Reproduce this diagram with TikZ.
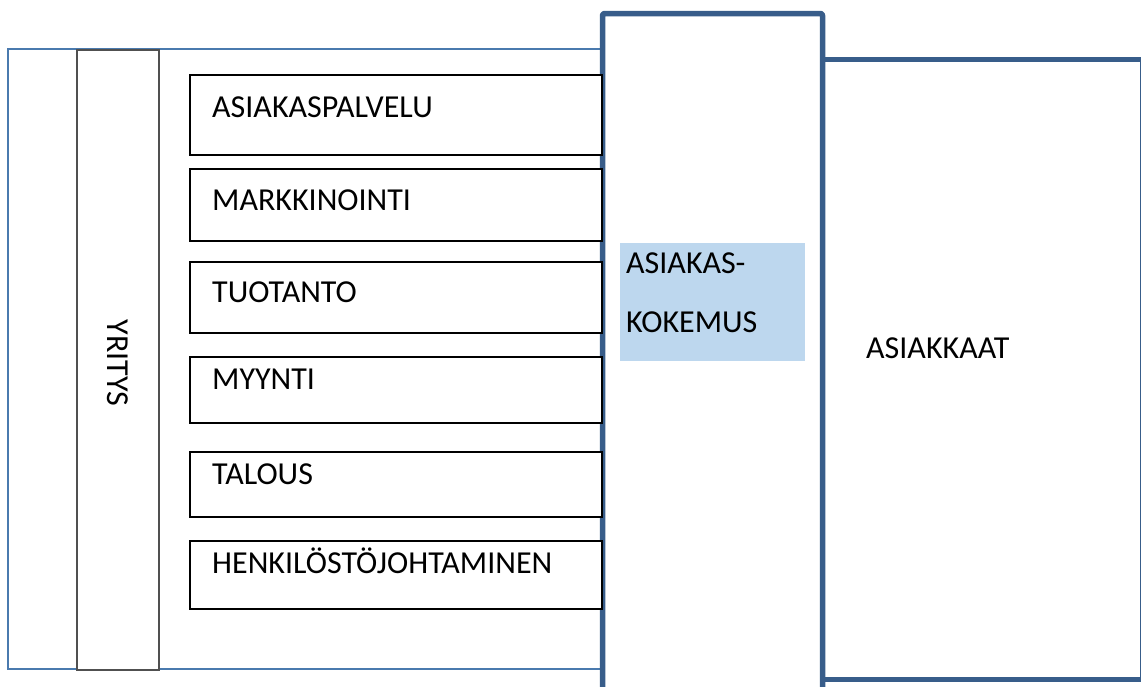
\documentclass[tikz,border=0pt]{standalone}
\usepackage{fontspec}
\setmainfont{Carlito}
\definecolor{outerblue}{HTML}{4A7AAE}
\definecolor{darkblue}{HTML}{385D8A}
\definecolor{lightfill}{HTML}{BDD7EE}
\definecolor{greyline}{HTML}{505050}
\tikzset{
  fbox/.style={draw=black, line width=1.2pt, fill=white, minimum width=412pt, minimum height=#1, anchor=north west, inner sep=0pt, outer sep=0pt},
  lbl/.style={font=\fontsize{32}{36}\selectfont, anchor=base west, inner sep=0pt, text=black},
  thickline/.style={draw=darkblue, line width=5.5pt, line join=round, line cap=butt},
}
\begin{document}
\begin{tikzpicture}[x=1pt,y=-1pt]
\useasboundingbox (0,0) rectangle (1141,686);
% outer company box
\draw[outerblue, line width=2.2pt] (602.5,49) -- (8,49) -- (8,669) -- (602.5,669);
% YRITYS column
\node[draw=greyline, line width=1.8pt, fill=white, minimum width=82pt, minimum height=620pt, anchor=north west, inner sep=0pt] (yr) at (76,49) {};
\node[font=\fontsize{32}{36}\selectfont, rotate=-90, inner sep=0pt] (yrt) at (117.5,363) {YRITYS};
% middle column
\draw[thickline, rounded corners=2pt] (602.5,695) -- (602.5,13.5) -- (822.5,13.5) -- (822.5,695);
% customers box
\draw[thickline] (822.5,59.5) -- (1143,59.5) -- (1143,679.5) -- (822.5,679.5);
% customer experience
\node[fill=lightfill, minimum width=185pt, minimum height=118pt, anchor=north west, inner sep=0pt] (ak) at (620,243) {};
\node[lbl] (ak1) at (626,273) {ASIAKAS-};
\node[lbl] (ak2) at (626,332) {KOKEMUS};
\node[lbl] (cust) at (866,358) {ASIAKKAAT};
% function boxes
\node[fbox=80pt] (b1) at (190,75) {};
\node[fbox=72pt] (b2) at (190,169) {};
\node[fbox=71pt] (b3) at (190,262) {};
\node[fbox=66pt] (b4) at (190,357) {};
\node[fbox=65pt] (b5) at (190,452) {};
\node[fbox=68pt] (b6) at (190,541) {};
\node[lbl] (t1) at (212,117) {ASIAKASPALVELU};
\node[lbl] (t2) at (212,210) {MARKKINOINTI};
\node[lbl] (t3) at (212,302) {TUOTANTO};
\node[lbl] (t4) at (212,389) {MYYNTI};
\node[lbl] (t5) at (212,484) {TALOUS};
\node[lbl] (t6) at (212,573) {HENKILÖSTÖJOHTAMINEN};
\end{tikzpicture}
\end{document}
